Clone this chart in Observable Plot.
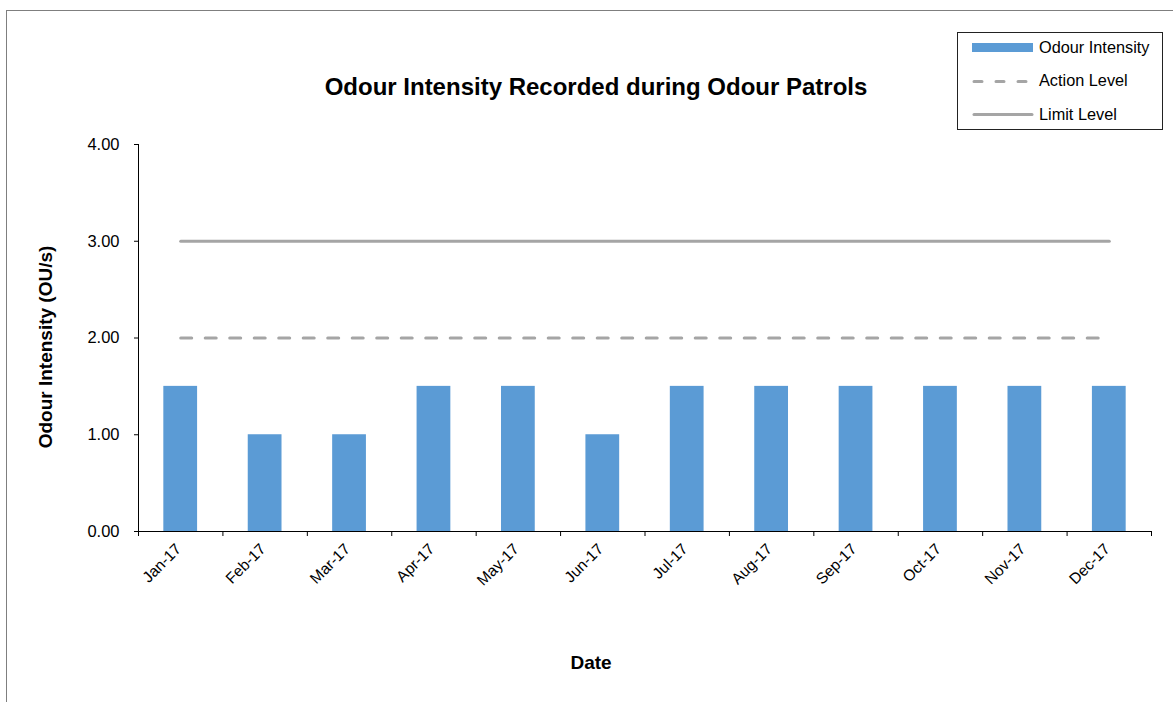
<!DOCTYPE html>
<html>
<head>
<meta charset="utf-8">
<script src="https://cdn.jsdelivr.net/npm/d3@7"></script>
<script src="https://cdn.jsdelivr.net/npm/@observablehq/plot@0.6"></script>
<style>
  html, body { margin: 0; padding: 0; background: #fff; overflow: hidden; }
  #wrap { position: relative; width: 1173px; height: 702px; font-family: "Liberation Sans", Arial, sans-serif; color: #000; overflow: hidden; }
  #border { position: absolute; left: 6px; top: 10px; width: 1300px; height: 900px; border: 1px solid #7f7f7f; }
  #chart { position: absolute; left: 0; top: 0; }
  #title { position: absolute; left: 0; width: 1192px; top: 73px; text-align: center; font-weight: bold; font-size: 24px; line-height: 28px; }
  #xtitle { position: absolute; left: 0; width: 1182px; top: 652px; text-align: center; font-weight: bold; font-size: 19px; line-height: 22px; }
  #ytitle { position: absolute; left: 46px; top: 347px; transform: translate(-50%, -50%) rotate(-90deg); white-space: nowrap; font-weight: bold; font-size: 19px; line-height: 22px; }
  #legend { position: absolute; left: 957px; top: 32px; width: 204px; height: 96px; border: 1px solid #222; background: #fff; }
  .item { position: absolute; left: 14px; height: 20px; display: flex; align-items: center; font-size: 16.3px; }
  .item svg { margin-right: 5px; }
</style>
</head>
<body>
<div id="wrap">
  <div id="border"></div>
  <div id="chart"></div>
  <div id="title">Odour Intensity Recorded during Odour Patrols</div>
  <div id="xtitle">Date</div>
  <div id="ytitle">Odour Intensity (OU/s)</div>
  <div id="legend"></div>
</div>
<script>
// ---- data ----
const months = ["Jan-17","Feb-17","Mar-17","Apr-17","May-17","Jun-17","Jul-17","Aug-17","Sep-17","Oct-17","Nov-17","Dec-17"];
const intensity = [1.5, 1.0, 1.0, 1.5, 1.5, 1.0, 1.5, 1.5, 1.5, 1.5, 1.5, 1.5];
const actionLevel = [2, 2, 2, 2, 2, 2, 2, 2, 2, 2, 2, 2];
const limitLevel = [3, 3, 3, 3, 3, 3, 3, 3, 3, 3, 3, 3];
const yTicks = [0, 1, 2, 3, 4];

const rows = months.map((m, i) => ({month: m, intensity: intensity[i], action: actionLevel[i], limit: limitLevel[i]}));

const barColor = "#5B9BD5";
const lineColor = "#A5A5A5";

const W = 1173, H = 702, mL = 138, mR = 22, mT = 144, mB = 171;
const step = (W - mL - mR) / months.length;

const plot = Plot.plot({
  width: W, height: H,
  marginLeft: mL, marginRight: mR, marginTop: mT, marginBottom: mB,
  style: {fontFamily: "Liberation Sans, Arial, sans-serif", color: "#000", background: "transparent"},
  x: {type: "band", domain: months, paddingInner: 0.6, paddingOuter: 0.3, align: 0.5, round: false},
  y: {domain: [0, 4]},
  marks: [
    Plot.barY(rows, {x: "month", y: "intensity", fill: barColor}),
    Plot.lineY(rows, {x: "month", y: "action", stroke: lineColor, strokeWidth: 3, strokeDasharray: "11,13.5", strokeLinecap: "round"}),
    Plot.lineY(rows, {x: "month", y: "limit", stroke: lineColor, strokeWidth: 3}),
    Plot.axisY({ticks: yTicks, tickFormat: d3.format(".2f"), tickSize: 4, tickPadding: 15, fontSize: 16.5, label: null, stroke: "#000"}),
    Plot.axisX({tickSize: 5, tickFormat: () => "", dx: -step / 2, label: null, stroke: "#000"}),
    Plot.axisX({ticks: [months[months.length - 1]], tickSize: 5, tickFormat: () => "", dx: step / 2, label: null, stroke: "#000"}),
    Plot.axisX({tickSize: 0, tickRotate: -45, tickPadding: 15, fontSize: 15.5, label: null, dx: -2}),
    Plot.ruleY([0], {stroke: "#000", strokeWidth: 1}),
    Plot.ruleX([months[0]], {y1: 0, y2: 4, dx: -step / 2, stroke: "#000", strokeWidth: 1})
  ]
});
document.getElementById("chart").appendChild(plot);

// ---- legend ----
const legendItems = [
  {label: "Odour Intensity", type: "bar"},
  {label: "Action Level", type: "dash"},
  {label: "Limit Level", type: "line"}
];
const legend = d3.select("#legend");
legendItems.forEach((it, i) => {
  const row = legend.append("div").attr("class", "item").style("top", (4 + i * 33.5) + "px");
  const s = row.append("svg").attr("width", 62).attr("height", 20);
  if (it.type === "bar") {
    s.append("rect").attr("x", 0).attr("y", 6).attr("width", 61).attr("height", 9).attr("fill", barColor);
  } else {
    s.append("line").attr("x1", 2).attr("x2", 60).attr("y1", 10.5).attr("y2", 10.5)
      .attr("stroke", lineColor).attr("stroke-width", 3).attr("stroke-linecap", "round")
      .attr("stroke-dasharray", it.type === "dash" ? "8,14" : null);
  }
  row.append("span").text(it.label);
});
</script>
</body>
</html>
